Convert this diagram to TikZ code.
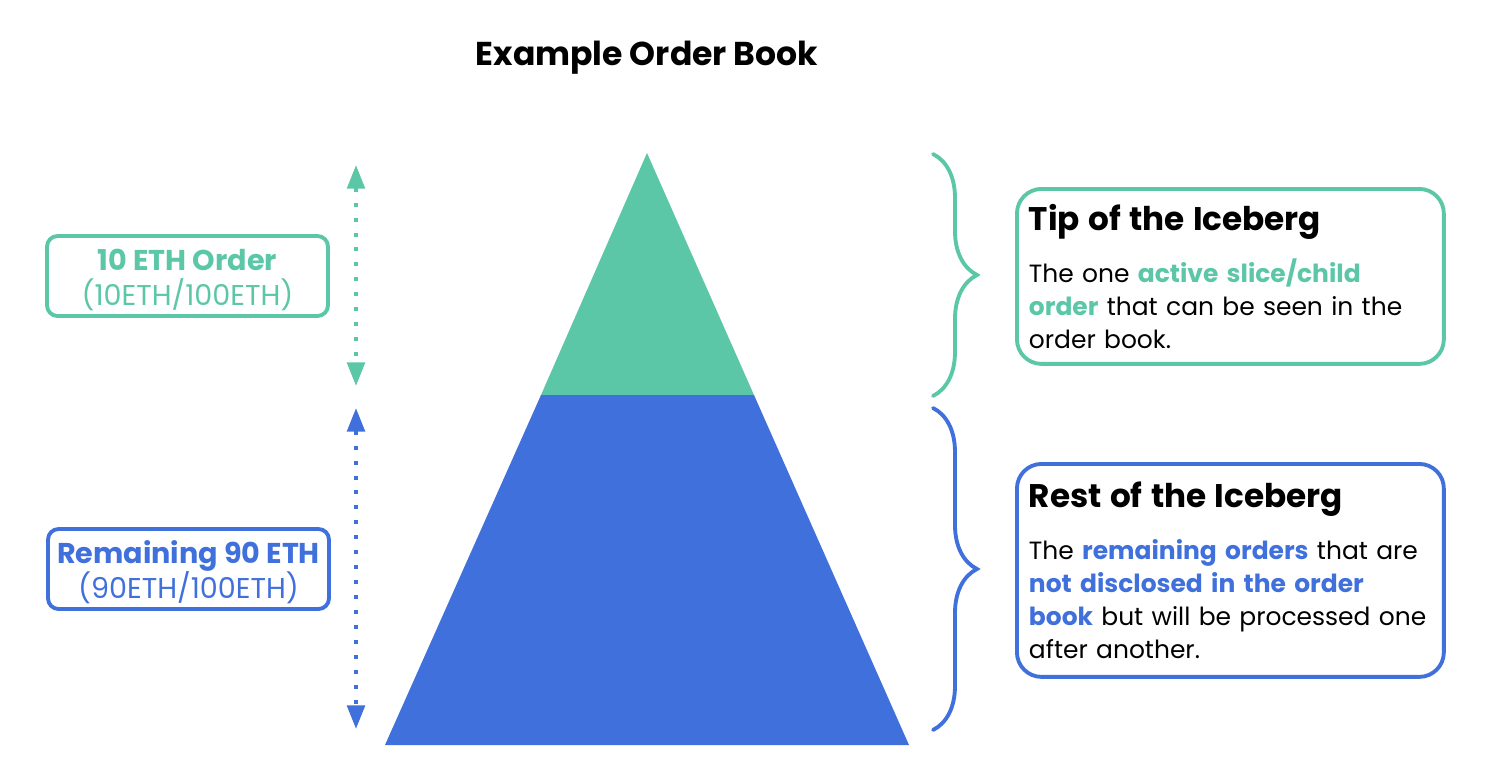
\documentclass[tikz,border=0pt]{standalone}
\usepackage{fontspec}
\setmainfont{Poppins}
\usetikzlibrary{arrows.meta,decorations.pathreplacing}
\definecolor{tipgreen}{RGB}{91,199,167}
\definecolor{restblue}{RGB}{64,112,219}
\newcommand{\tipword}[1]{\textcolor{tipgreen}{\textbf{#1}}}
\newcommand{\restword}[1]{\textcolor{restblue}{\textbf{#1}}}
\newcommand{\notetitle}[1]{{\fontsize{18.6}{20}\selectfont\bfseries #1}}
\newcommand{\sizestrut}{\rule{0pt}{16.6pt}}
\begin{document}
\begin{tikzpicture}[x=0.02cm, y=-0.02cm,
                    every node/.style={inner sep=0pt},
                    sizebox/.style={draw=#1, text=#1, line width=2.2pt, rounded corners=6pt,
                        minimum width=5.62cm, minimum height=1.6cm, align=center,
                        font=\fontsize{16.3}{20}\selectfont},
                    notebox/.style={draw=#1, line width=2.2pt, rounded corners=14pt,
                        anchor=north west, inner xsep=0.24cm, text width=8.06cm, align=left,
                        font=\fontsize{14.2}{18.8}\selectfont},
                    levelarrow/.style={draw=#1, line width=2.3pt, dash pattern=on 2.3pt off 6.2pt,
                        arrows={Triangle[width=10pt,length=13.5pt]-Triangle[width=10pt,length=13.5pt]}},
                    curly/.style={draw=#1, line width=2.2pt, line cap=round, decorate,
                        decoration={brace, amplitude=0.88cm}}
                ]
                \useasboundingbox (0,0) rectangle (1492,774);
                \node[font=\fontsize{18.8}{20}\selectfont\bfseries] (title) at (647,58) {Example Order Book};
                % the iceberg
                \coordinate (apex) at (647,153);
                \coordinate (cutleft) at (541,395);
                \coordinate (cutright) at (754,395);
                \coordinate (baseleft) at (385,745);
                \coordinate (baseright) at (909,745);
                \fill[tipgreen] (apex) -- (cutright) -- (cutleft) -- cycle;
                \fill[restblue] (cutleft) -- (cutright) -- (baseright) -- (baseleft) -- cycle;
                % left side
                \node[sizebox=tipgreen] (tipsize) at (187.5,276) {\sizestrut\textbf{10 ETH Order}\\(10ETH/100ETH)};
                \node[sizebox=restblue] (restsize) at (188.5,569) {\sizestrut\textbf{Remaining 90 ETH}\\(90ETH/100ETH)};
                \coordinate (tiptop) at (356,165);
                \coordinate (tipbottom) at (356,386);
                \coordinate (resttop) at (356,408);
                \coordinate (restbottom) at (356,729);
                \draw[levelarrow=tipgreen] (tiptop) -- (tipbottom);
                \draw[levelarrow=restblue] (resttop) -- (restbottom);
                % right side
                \coordinate (tipbracetop) at (933,154);
                \coordinate (tipbracebottom) at (933,396);
                \coordinate (restbracetop) at (933,408);
                \coordinate (restbracebottom) at (933,730);
                \draw[curly=tipgreen] (tipbracetop) -- (tipbracebottom);
                \draw[curly=restblue] (restbracetop) -- (restbracebottom);
                \node[notebox=tipgreen, minimum height=3.5cm] (tipnote) at (1015,187)
                    {\notetitle{Tip of the Iceberg}\\[11pt]
                     The one \tipword{active slice/child}\\
                     \tipword{order} that can be seen in the\\
                     order book.};
                \node[notebox=restblue, minimum height=4.26cm] (restnote) at (1015,462)
                    {\notetitle{Rest of the Iceberg}\\[11pt]
                     The \restword{remaining orders} that are\\
                     \restword{not disclosed in the order}\\
                     \restword{book} but will be processed one\\
                     after another.};
                \end{tikzpicture}
\end{document}
